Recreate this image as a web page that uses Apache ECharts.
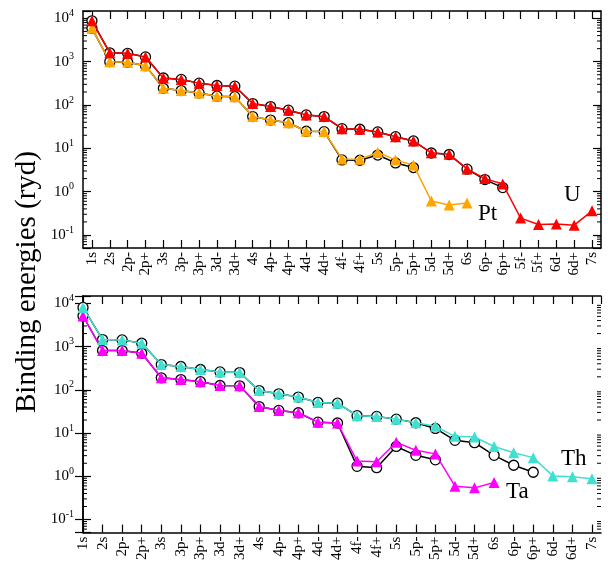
<!DOCTYPE html>
<html>
<head>
<meta charset="utf-8">
<script src="https://cdn.jsdelivr.net/npm/echarts@6/dist/echarts.min.js"></script>
<style>
html,body{margin:0;padding:0;background:#fff;}
#chart{width:608px;height:563px;}
</style>
</head>
<body>
<div id="chart"></div>
<script>
// ---- categories ----
const topCats = ['1s','2s','2p-','2p+','3s','3p-','3p+','3d-','3d+','4s','4p-','4p+','4d-','4d+','4f-','4f+','5s','5p-','5p+','5d-','5d+','6s','6p-','6p+','5f-','5f+','6d-','6d+','7s'];
const botCats = ['1s','2s','2p-','2p+','3s','3p-','3p+','3d-','3d+','4s','4p-','4p+','4d-','4d+','4f-','4f+','5s','5p-','5p+','5d-','5d+','6s','6p-','6p+','6d-','6d+','7s'];

// ---- top panel: U and Pt (ryd) ----
const uTri  = [8800,1600,1560,1290,420,390,320,282,272,108,92,76,59,54,28.4,27.6,23.9,18.6,14.8,7.9,7.3,3.35,2.0,1.5,0.245,0.175,0.18,0.168,0.36];
const uCirc = [8800,1600,1560,1290,420,390,320,282,272,108,92,76,59,54,28.4,27.6,23.9,18.6,14.8,7.8,7.2,3.3,1.9,1.24];
const ptTri  = [5900,1000,970,810,243,215,190,160,156,54,45,39,24.8,24.3,5.7,5.6,8.0,5.4,4.1,0.61,0.49,0.55];
const ptCirc = [5900,1000,970,810,243,215,190,160,156,54,45,39,24.8,24.3,5.4,5.3,7.0,4.6,3.6];

// ---- bottom panel: Th and Ta (ryd) ----
const thTri  = [8070,1450,1430,1195,384,346,295,260,251,96,81,68,51,49,25.2,24.3,21,17.3,14.3,8.4,8.1,4.9,3.5,2.7,1.02,0.97,0.88];
const thCirc = [8070,1450,1430,1195,384,346,295,260,251,96,81,68,51,49,25.2,24.3,21,17.3,12.8,6.8,6.0,3.05,1.8,1.24];
const taTri  = [5100,810,810,700,190,173,154,126,124,41,33.4,29.5,17.9,17.1,2.25,2.18,6.1,4.0,3.3,0.59,0.54,0.72];
const taCirc = [5100,810,810,700,190,173,154,126,124,41,33.4,29.5,17.9,17.1,1.7,1.58,4.9,3.05,2.4];

// ---- axis ticks ----
const yMin = 0.05, yMax = 14800;
const minorTicks = [0.06,0.07,0.08,0.09,0.2,0.3,0.4,0.5,0.6,0.7,0.8,0.9,2,3,4,5,6,7,8,9,20,30,40,50,60,70,80,90,200,300,400,500,600,700,800,900,2000,3000,4000,5000,6000,7000,8000,9000];

const FONT = 'Liberation Serif';

function padTop(arr){ const o = arr.slice(); while(o.length < topCats.length) o.push(null); return o; }
function pairs(arr){ return arr.map((v,i)=>[i,v]); }

function yLabel(v){
  const l = Math.log10(v), e = Math.round(l);
  if (Math.abs(l - e) > 1e-6) return '';
  return '{b|10}{s|' + e + '}';
}
const yRich = {
  b:{fontFamily:FONT,fontSize:15,color:'#000',lineHeight:20},
  s:{fontFamily:FONT,fontSize:10,color:'#000',lineHeight:20,verticalAlign:'top'}
};

function minorRender(params, api){
  const cs = params.coordSys;
  const y = api.coord([0, api.value(1)])[1];
  return {type:'group',children:[
    {type:'line',shape:{x1:cs.x,y1:y,x2:cs.x+4,y2:y},style:{stroke:'#000',lineWidth:1}},
    {type:'line',shape:{x1:cs.x+cs.width-4,y1:y,x2:cs.x+cs.width,y2:y},style:{stroke:'#000',lineWidth:1}}
  ]};
}

const axisLine = {show:true,lineStyle:{color:'#000',width:1.5}};
const tickIn = {show:true,inside:true,length:8,lineStyle:{color:'#000',width:1.2}};

function yAx(grid, pos, labels){
  return {type:'log',gridIndex:grid,position:pos,min:yMin,max:yMax,logBase:10,
    axisLine:axisLine,axisTick:tickIn,splitLine:{show:false},
    axisLabel:labels?{show:true,formatter:yLabel,rich:yRich,margin:9}:{show:false}};
}

function circ(data,x,y){
  return {type:'line',xAxisIndex:x,yAxisIndex:y,data:data,symbol:'circle',symbolSize:10,
    lineStyle:{color:'#000',width:1.5},itemStyle:{color:'#fff',borderColor:'#000',borderWidth:1.3},
    connectNulls:false,z:3};
}
function tri(data,x,y,color){
  return {type:'line',xAxisIndex:x,yAxisIndex:y,data:data,symbol:'triangle',symbolSize:11,
    lineStyle:{color:color,width:1.5},itemStyle:{color:color,borderWidth:0},
    connectNulls:false,z:4};
}

const option = {
  backgroundColor:'#fff',
  animation:false,
  grid:[
    {left:83,top:11,width:518,height:237},
    {left:83,top:296,width:518,height:237}
  ],
  xAxis:[
    {type:'category',gridIndex:0,data:topCats,boundaryGap:true,position:'bottom',
      axisLine:axisLine,axisTick:Object.assign({alignWithLabel:true,interval:0},tickIn),
      axisLabel:{interval:0,rotate:90,margin:4,fontFamily:FONT,fontSize:15,color:'#000'},splitLine:{show:false}},
    {type:'category',gridIndex:0,data:topCats,boundaryGap:true,position:'top',
      axisLine:axisLine,axisTick:Object.assign({alignWithLabel:true,interval:0},tickIn),
      axisLabel:{show:false},splitLine:{show:false}},
    {type:'value',gridIndex:1,min:0,max:26.46,interval:1,position:'bottom',
      axisLine:axisLine,axisTick:tickIn,
      axisLabel:{rotate:90,margin:4,fontFamily:FONT,fontSize:15,color:'#000',
        showMaxLabel:false,
        formatter:function(v){return Number.isInteger(v)?(botCats[v]||''):'';}},
      splitLine:{show:false}},
    {type:'value',gridIndex:1,min:0,max:26.46,interval:1,position:'top',
      axisLine:axisLine,axisTick:tickIn,axisLabel:{show:false},splitLine:{show:false}}
  ],
  yAxis:[
    yAx(0,'left',true), yAx(0,'right',false),
    yAx(1,'left',true), yAx(1,'right',false)
  ],
  series:[
    {type:'custom',xAxisIndex:0,yAxisIndex:0,data:minorTicks.map(v=>[0,v]),renderItem:minorRender,silent:true,clip:false,z:1},
    {type:'custom',xAxisIndex:2,yAxisIndex:2,data:minorTicks.map(v=>[0,v]),renderItem:minorRender,silent:true,clip:false,z:1},
    circ(padTop(ptCirc),0,0), tri(padTop(ptTri),0,0,'#ffa500'),
    circ(padTop(uCirc),0,0),  tri(padTop(uTri),0,0,'#ff0000'),
    circ(pairs(taCirc),2,2),  tri(pairs(taTri),2,2,'#ff00ff'),
    circ(pairs(thCirc),2,2),  tri(pairs(thTri),2,2,'#40e0d0')
  ],
  graphic:[
    {type:'text',left:16,top:127,style:{text:'Binding energies (ryd)',font:'29px "Liberation Serif"',fill:'#000'},rotation:Math.PI/2,originX:0,originY:0,
     x:13,y:413,left:null,top:null},
    {type:'text',x:478,y:202,style:{text:'Pt',font:'23px "Liberation Serif"',fill:'#000'}},
    {type:'text',x:564,y:183,style:{text:'U',font:'23px "Liberation Serif"',fill:'#000'}},
    {type:'text',x:506,y:480,style:{text:'Ta',font:'23px "Liberation Serif"',fill:'#000'}},
    {type:'text',x:561,y:447,style:{text:'Th',font:'23px "Liberation Serif"',fill:'#000'}}
  ]
};

const chart = echarts.init(document.getElementById('chart'), null, {renderer:'canvas'});
chart.setOption(option);
</script>
</body>
</html>
